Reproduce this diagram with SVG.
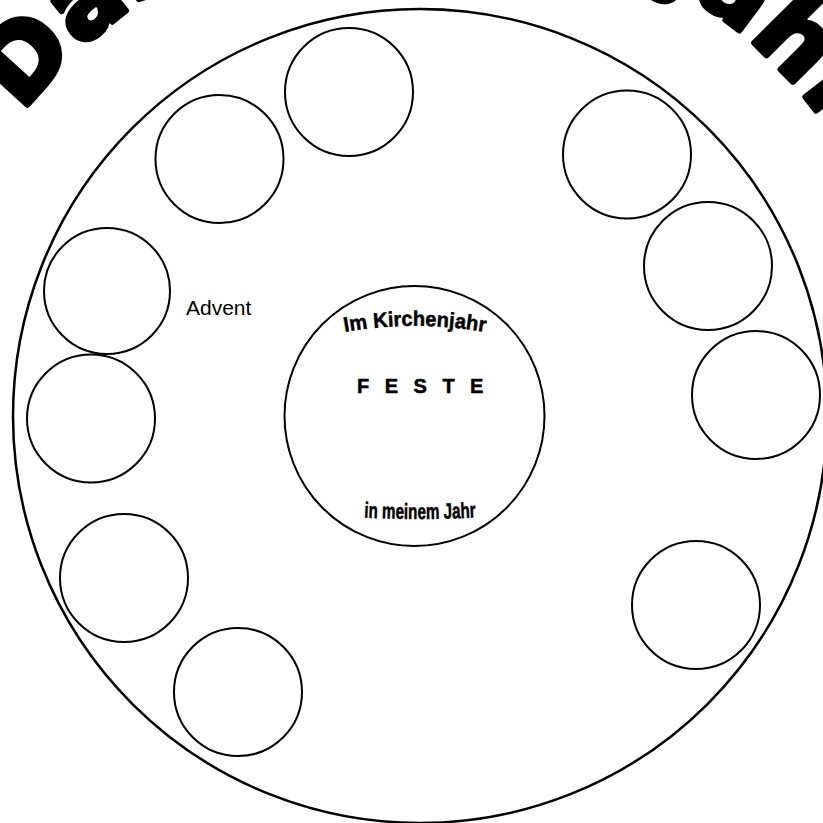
<svg xmlns="http://www.w3.org/2000/svg" width="823" height="823" viewBox="0 0 823 823">
  <style>
    .ring { fill: none; stroke: #000; stroke-width: 2; }
    .outer { fill: none; stroke: #000; stroke-width: 2.5; }
    .title { font-family: "DejaVu Sans", "Liberation Sans", sans-serif; font-weight: bold; font-size: 100px; letter-spacing: 3px; fill: #000; stroke: #000; stroke-width: 6; stroke-linejoin: round; }
    .cond { font-family: "Liberation Sans", Arial, sans-serif; font-weight: bold; fill: #000; stroke: #000; stroke-width: 0.5; }
    .label { font-family: "Liberation Sans", Arial, sans-serif; fill: #000; }
  </style>
  <defs>
    <path id="titleArc" d="M -80 416 A 500 500 0 0 1 920 416"/>
    <path id="topArc" d="M 340 333 A 400 400 0 0 1 490 333"/>
    <path id="botArc" d="M 356 517 A 1000 1000 0 0 0 484 517"/>
  </defs>
  <rect width="823" height="823" fill="#fff"/>

  <g id="title">
    <text class="title"><textPath href="#titleArc" startOffset="326">Das Kirchenjahr</textPath></text>
  </g>

  <g id="outer-circle">
    <circle class="outer" cx="420" cy="416" r="407"/>
  </g>

  <g id="center">
    <circle class="ring" cx="414.5" cy="416" r="130"/>
    <text class="cond" font-size="21"><textPath href="#topArc" startOffset="50%" text-anchor="middle" textLength="141" lengthAdjust="spacingAndGlyphs">Im Kirchenjahr</textPath></text>
    <text class="cond" font-size="20" x="357" y="393" letter-spacing="15.5">FESTE</text>
    <text class="cond" font-size="22"><textPath href="#botArc" startOffset="50%" text-anchor="middle" textLength="112" lengthAdjust="spacingAndGlyphs">in meinem Jahr</textPath></text>
  </g>

  <g id="c1"><circle class="ring" cx="349" cy="92" r="64"/></g>
  <g id="c2"><circle class="ring" cx="219.5" cy="159" r="64"/></g>
  <g id="c3"><circle class="ring" cx="107" cy="291" r="63"/></g>
  <g id="c4"><circle class="ring" cx="91" cy="418.5" r="64"/></g>
  <g id="c5"><circle class="ring" cx="124" cy="578" r="64"/></g>
  <g id="c6"><circle class="ring" cx="238" cy="692" r="64"/></g>
  <g id="c7"><circle class="ring" cx="627" cy="154.5" r="64"/></g>
  <g id="c8"><circle class="ring" cx="708" cy="266" r="64"/></g>
  <g id="c9"><circle class="ring" cx="756" cy="395" r="64"/></g>
  <g id="c10"><circle class="ring" cx="696" cy="605" r="64"/></g>

  <g id="advent">
    <text class="label" font-size="21" x="186" y="315">Advent</text>
  </g>

  <g id="connectors"/>
</svg>
